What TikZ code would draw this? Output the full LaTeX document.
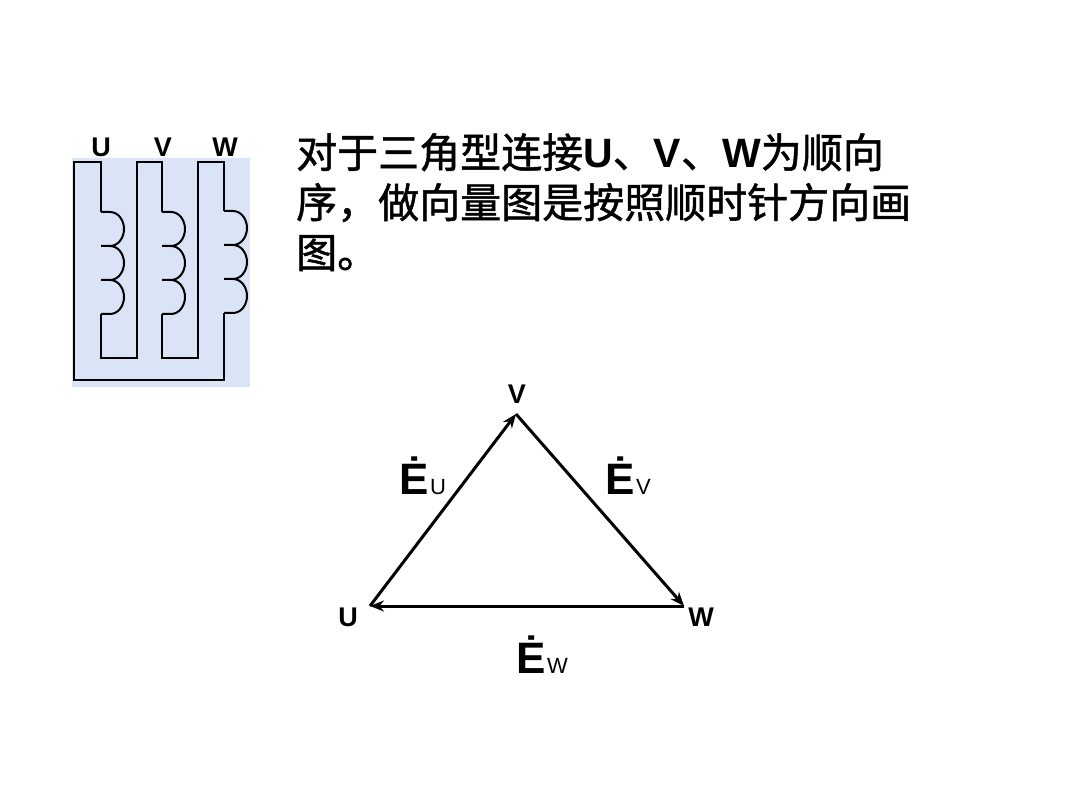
\documentclass[tikz,border=0pt]{standalone}
\usepackage{fontspec}
\setmainfont{Liberation Sans}
\newfontfamily\cjk[FakeBold=1.2]{Noto Sans CJK SC}
\usetikzlibrary{arrows.meta}
\definecolor{bg}{HTML}{DAE4F6}
\begin{document}
\begin{tikzpicture}[x=1pt,y=-1pt,
  wire/.style={line width=2pt,line join=miter},
  vec/.style={line width=3pt,-{Stealth[length=14pt,width=11pt]}},
  lbl/.style={font=\fontsize{27}{27}\bfseries},
  elbl/.style={font=\fontsize{44}{44}\bfseries,inner sep=0pt},
  sub/.style={anchor=south west,inner sep=0pt,font=\fontsize{22}{22}\selectfont}]
\useasboundingbox (0,0) rectangle (1080,810);
\fill[bg] (72,158) rectangle (250,387);
\node[lbl] (lu) at (101,147) {U};
\node[lbl] (lv) at (163,147) {V};
\node[lbl] (lw) at (225,147) {W};
\def\coil#1#2{%
  \draw[wire] (#1,#2) -- ++(9,0) arc[start angle=-90,end angle=90,x radius=14,y radius=17] -- ++(-9,0)
    ++(9,0) arc[start angle=-90,end angle=90,x radius=14,y radius=17] -- ++(-9,0)
    ++(9,0) arc[start angle=-90,end angle=90,x radius=14,y radius=17] -- ++(-9,0);}
\draw[wire] (101,212) -- (101,162) -- (74,162) -- (74,380) -- (224,380) -- (224,313);
\draw[wire] (101,314) -- (101,358) -- (137,358) -- (137,162) -- (162,162) -- (162,212);
\draw[wire] (162,314) -- (162,358) -- (198,358) -- (198,162) -- (224,162) -- (224,211);
\coil{101}{212}
\coil{162}{212}
\coil{224}{211}
\node[anchor=north west,align=left,inner sep=0pt,font=\fontsize{41}{50}\selectfont] (txt) at (296,133)
 {{\cjk 对于三角型连接}\textbf{U}{\cjk 、}\textbf{V}{\cjk 、}\textbf{W}{\cjk 为顺向}\\
  {\cjk 序，做向量图是按照顺时针方向画}\\
  {\cjk 图。}};
\coordinate (U) at (370,606);
\coordinate (V) at (516,414);
\coordinate (W) at (684,606);
\draw[vec] (U) -- (V);
\draw[vec] (V) -- (W);
\draw[vec] (W) -- (U);
\node[lbl] (nv) at (517,394) {V};
\node[lbl] (nu) at (348,617) {U};
\node[lbl] (nw) at (701,617) {W};
\node[elbl] (eu) at (414,476) {\.E};
\node[sub] at ([xshift=1pt]eu.south east) {U};
\node[elbl] (ev) at (620,476) {\.E};
\node[sub] at ([xshift=1pt]ev.south east) {V};
\node[elbl] (ew) at (531,655) {\.E};
\node[sub] at ([xshift=1pt]ew.south east) {W};
\end{tikzpicture}
\end{document}
